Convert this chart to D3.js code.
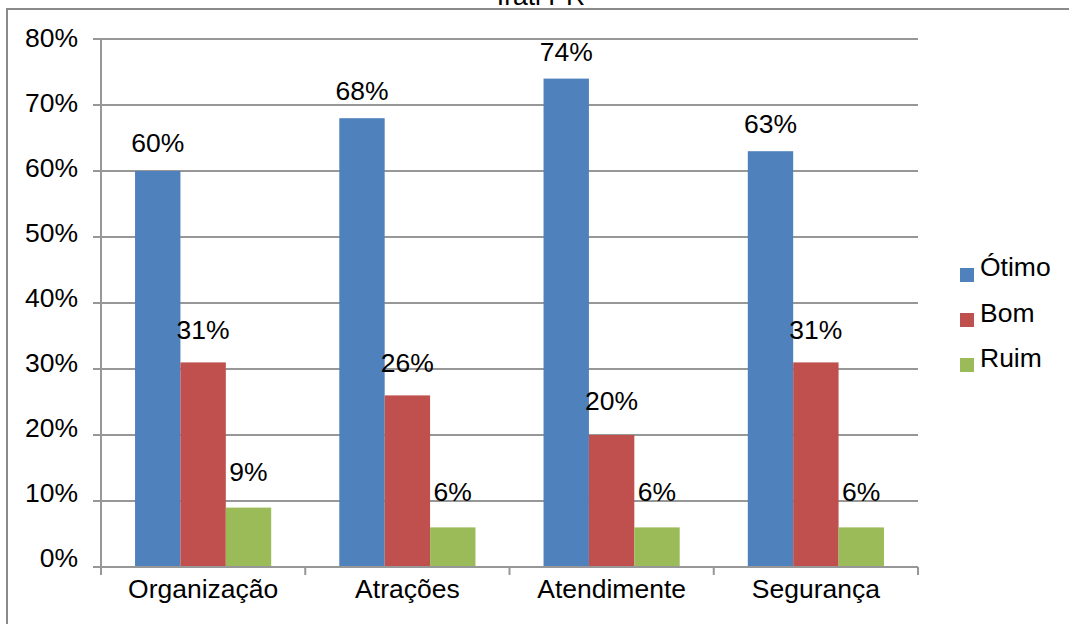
<!DOCTYPE html>
<html>
<head>
<meta charset="utf-8">
<script src="https://cdn.jsdelivr.net/npm/d3@7"></script>
<style>
  html, body { margin: 0; padding: 0; background: #fff; }
  svg { display: block; font-family: "Liberation Sans", Arial, sans-serif; }
</style>
</head>
<body>
<svg id="chart" width="1069" height="624"></svg>
<script>
const title = "Irati PR";
const categories = ["Organização", "Atrações", "Atendimente", "Segurança"];
const seriesNames = ["Ótimo", "Bom", "Ruim"];
const otimo = [60, 68, 74, 63];
const bom = [31, 26, 20, 31];
const ruim = [9, 6, 6, 6];
const yTicks = [0, 10, 20, 30, 40, 50, 60, 70, 80];
const colors = ["#4F81BD", "#C0504D", "#9BBB59"];

(function () {
const seriesValues = [otimo, bom, ruim];
const svg = d3.select("#chart");
const fontSize = 25;
const stretch = 1.06;

function addText(parent, x, yPos, str, anchor) {
  return parent.append("text")
    .attr("transform", `translate(${x},${yPos}) scale(${stretch},1)`)
    .attr("text-anchor", anchor || "start")
    .attr("font-size", fontSize).attr("fill", "#000").text(str);
}

// outer chart border (extends beyond right/bottom edges)
svg.append("rect").attr("x", 7).attr("y", 9).attr("width", 1100).attr("height", 700)
  .attr("fill", "none").attr("stroke", "#8a8a8a").attr("stroke-width", 2);

// title (partially cut off at top, as in the reference)
addText(svg, 541, 5, title, "middle");

const pL = 101, pR = 918, pT = 39, pB = 567;
const y = d3.scaleLinear().domain([0, 80]).range([pB, pT]);
const x0 = d3.scaleBand().domain(categories).range([pL, pR]).paddingInner(0).paddingOuter(0);
const x1 = d3.scaleBand().domain(seriesNames).range([0, x0.bandwidth()]).paddingInner(0).paddingOuter(0.75);

// gridlines
svg.append("g").selectAll("line").data(yTicks.filter(d => d > 0)).join("line")
  .attr("x1", pL).attr("x2", pR)
  .attr("y1", d => y(d)).attr("y2", d => y(d))
  .attr("stroke", "#979797").attr("stroke-width", 2);

// y axis
const yAxis = svg.append("g");
yAxis.append("line").attr("x1", pL).attr("x2", pL).attr("y1", pT).attr("y2", pB + 8)
  .attr("stroke", "#979797").attr("stroke-width", 2);
yAxis.selectAll("line.tick").data(yTicks).join("line").attr("class", "tick")
  .attr("x1", pL - 8).attr("x2", pL)
  .attr("y1", d => y(d)).attr("y2", d => y(d))
  .attr("stroke", "#979797").attr("stroke-width", 2);
yTicks.forEach(d => addText(yAxis, 78, y(d) + d / 10, d + "%", "end"));

// bars
const groups = svg.append("g").selectAll("g").data(categories).join("g")
  .attr("transform", c => `translate(${x0(c)},0)`);
groups.each(function(c, ci) {
  const g = d3.select(this);
  seriesNames.forEach((s, si) => {
    const v = seriesValues[si][ci];
    g.append("rect")
      .attr("x", x1(s)).attr("width", x1.bandwidth())
      .attr("y", y(v)).attr("height", y(0) - y(v))
      .attr("fill", colors[si]);
  });
});

// x axis
const xAxis = svg.append("g");
xAxis.append("line").attr("x1", pL - 8).attr("x2", pR).attr("y1", pB).attr("y2", pB)
  .attr("stroke", "#979797").attr("stroke-width", 2);
const catEdges = categories.map(c => x0(c)).concat([x0(categories[categories.length - 1]) + x0.bandwidth()]);
xAxis.selectAll("line.tick").data(catEdges).join("line").attr("class", "tick")
  .attr("x1", d => d).attr("x2", d => d).attr("y1", pB).attr("y2", pB + 8)
  .attr("stroke", "#979797").attr("stroke-width", 2);
categories.forEach(c => addText(xAxis, x0(c) + x0.bandwidth() / 2, 598, c, "middle"));

// data labels
const labels = svg.append("g");
categories.forEach((c, ci) => {
  seriesNames.forEach((s, si) => {
    const v = seriesValues[si][ci];
    addText(labels, x0(c) + x1(s) + x1.bandwidth() / 2, y(v) - (27.5 - 0.14 * v), v + "%", "middle");
  });
});

// legend
const legend = svg.append("g");
seriesNames.forEach((s, i) => {
  legend.append("rect").attr("x", 960).attr("y", 268 + i * 45).attr("width", 14).attr("height", 14)
    .attr("fill", colors[i]);
  addText(legend, 980, 276 + i * 45.5, s, "start");
});
})();
</script>
</body>
</html>
